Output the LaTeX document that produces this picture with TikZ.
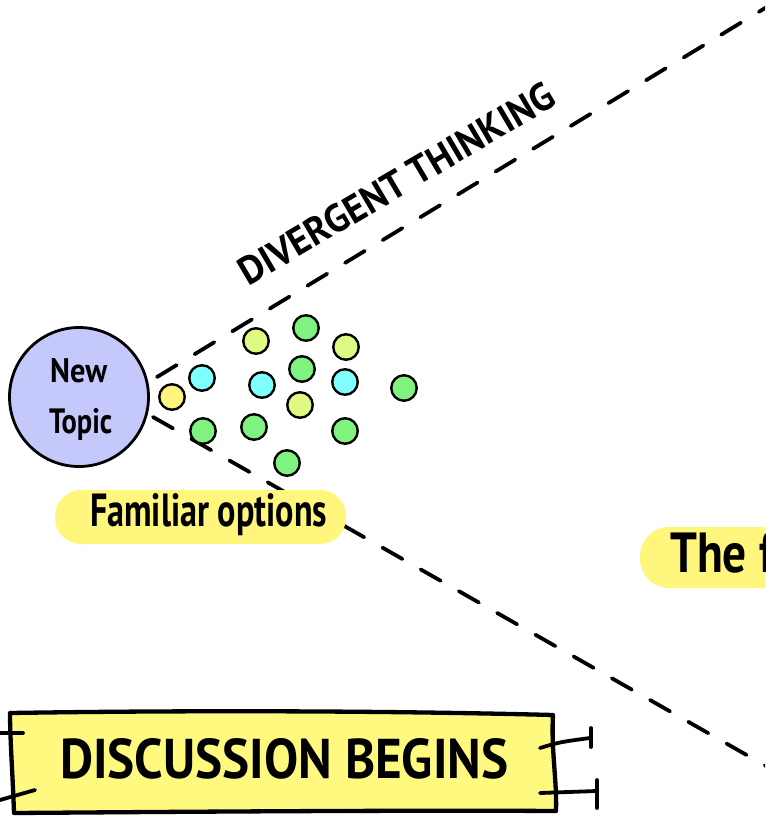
\documentclass[tikz,border=0pt]{standalone}
\usepackage{fontspec}
\setmainfont{PT Sans}
\usepackage{graphicx}

% scale a piece of bold text to a given width and height
\newcommand\fittext[3]{\resizebox{#1}{#2}{\bfseries #3}}

\definecolor{topicfill}{RGB}{197,200,250}
\definecolor{marker}{RGB}{255,247,125}
\definecolor{boxfill}{RGB}{255,249,128}
\definecolor{dotyellow}{RGB}{255,244,125}
\definecolor{dotcyan}{RGB}{128,255,255}
\definecolor{dotgreen}{RGB}{128,242,128}
\definecolor{dotlime}{RGB}{222,250,130}

\tikzset{
  dot/.style={circle, draw=black, line width=2.4pt, minimum size=25.5pt, inner sep=0pt},
  topicnode/.style={circle, draw=black, line width=2.8pt, fill=topicfill, minimum size=139pt, inner sep=0pt},
  funnel/.style={line width=3.8pt, line cap=round, dash pattern=on 23pt off 21pt},
  label/.style={inner sep=0pt, anchor=base west},
  stroke/.style={line width=3.8pt, line cap=round, line join=round},
  hilite/.style={fill=marker, rounded corners=26pt},
}

\begin{document}
\begin{tikzpicture}[x=1pt, y=-1pt]
  \useasboundingbox (0,0) rectangle (765,818);
  \clip (0,0) rectangle (765,818);
  \fill[white] (0,0) rectangle (765,818);

  % the starting topic
  \node[topicnode] (topic) at (79,397) {};
  \node[label] (new) at (50,382) {\fittext{57pt}{24pt}{New}};
  \node[label] (topicword) at (49,433) {\fittext{63pt}{25pt}{Topic}};

  % the two dashed edges of the funnel
  \coordinate (upS) at (157,377);
  \coordinate (upE) at (780,-1);
  \coordinate (loS) at (153,417);
  \coordinate (loE) at (780,774);
  \draw[funnel] (upS) -- (upE);
  \draw[funnel] (loS) -- (loE);

  \node[label, rotate=30.5] (divergent) at (248,287) {\fittext{360pt}{28pt}{DIVERGENT THINKING}};

  % options inside the funnel
  \node[dot, fill=dotyellow] (o1)  at (172,397) {};
  \node[dot, fill=dotcyan]   (o2)  at (202,378) {};
  \node[dot, fill=dotgreen]  (o3)  at (203,431) {};
  \node[dot, fill=dotlime]   (o4)  at (256,341) {};
  \node[dot, fill=dotcyan]   (o5)  at (262,385) {};
  \node[dot, fill=dotgreen]  (o6)  at (254,427) {};
  \node[dot, fill=dotgreen]  (o7)  at (306,328) {};
  \node[dot, fill=dotgreen]  (o8)  at (302,369) {};
  \node[dot, fill=dotlime]   (o9)  at (300,405) {};
  \node[dot, fill=dotgreen]  (o10) at (287,463) {};
  \node[dot, fill=dotlime]   (o11) at (346,347) {};
  \node[dot, fill=dotcyan]   (o12) at (345,382) {};
  \node[dot, fill=dotgreen]  (o13) at (345,431) {};
  \node[dot, fill=dotgreen]  (o14) at (404,388) {};

  % marker highlights lie over the dashed edge
  \fill[hilite] (55,490) rectangle (346,544);
  \fill[hilite, rounded corners=29pt] (640,527) rectangle (820,588);

  % captions
  \node[label] (familiar) at (90,526) {\fittext{237pt}{33pt}{Familiar options}};
  \node[label] (thef) at (670,572) {\fittext{104pt}{40pt}{The f}};

  % the start box
  \fill[boxfill] (11,713) -- (554,714) -- (556,811) -- (13,813) -- cycle;
  \draw[stroke, line width=4.3pt]
    (10,713) .. controls (200,710) and (400,711) .. (553,715)
    .. controls (551,750) and (557,780) .. (556,811)
    .. controls (400,810) and (150,812) .. (14,813)
    .. controls (13,780) and (10,740) .. cycle;
  \node[label] (discussion) at (60,778) {\fittext{448pt}{40pt}{DISCUSSION BEGINS}};

  % little handles on the sides of the box
  \draw[stroke] (0,733) -- (23,733);
  \draw[stroke] (0,800) -- (35,790);
  \draw[stroke] (540,748) .. controls (560,742) .. (590,738);
  \draw[stroke] (591,728) -- (591,747);
  \draw[stroke] (540,793) -- (597,791);
  \draw[stroke] (597,780) -- (597,808);
\end{tikzpicture}
\end{document}
